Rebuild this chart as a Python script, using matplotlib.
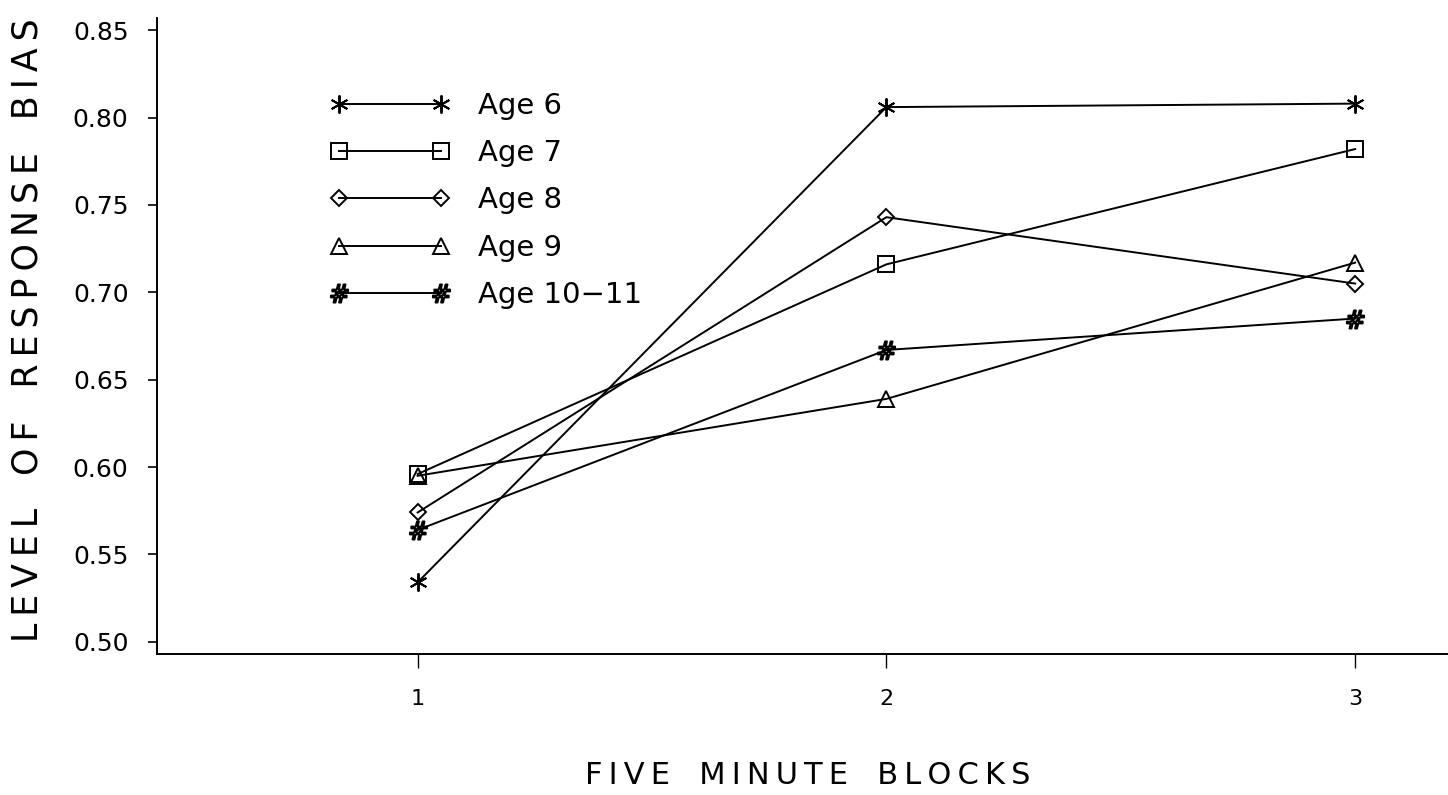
import matplotlib
matplotlib.use("Agg")
import matplotlib.pyplot as plt

blocks = [1, 2, 3]
age6 = [0.534, 0.806, 0.808]
age7 = [0.596, 0.716, 0.782]
age8 = [0.574, 0.743, 0.705]
age9 = [0.595, 0.639, 0.717]
age10_11 = [0.564, 0.667, 0.685]
labels = ["Age 6", "Age 7", "Age 8", "Age 9", "Age 10\u221211"]
yticks = [0.50, 0.55, 0.60, 0.65, 0.70, 0.75, 0.80, 0.85]

plt.rcParams['font.family'] = ['DejaVu Sans']

fig = plt.figure(figsize=(14.48, 7.95), dpi=100)
ax = fig.add_axes([157/1448, 1-654/795, 1-157/1448, (654-18)/795])

series = [age6, age7, age8, age9, age10_11]
markers = [(6, 2, 0), 's', 'D', '^', r'$\#$']
msizes = [13, 12, 8.5, 12, 13]
for vals, m, ms, lab in zip(series, markers, msizes, labels):
    ax.plot(blocks, vals, color='black', lw=1.4, marker=m, ms=ms,
            mfc='none', mec='black', mew=1.4, label=lab)

ax.set_xlim(0.444, 3.198)
ax.set_ylim(0.493, 0.857)
ax.set_xticks(blocks)
ax.set_xticklabels([str(b) for b in blocks], fontsize=16)
ax.set_yticks(yticks)
ax.set_yticklabels([f"{t:.2f}" for t in yticks], fontsize=18)
ax.tick_params(axis='y', direction='out', length=6.5, width=1.2, pad=14)
ax.tick_params(axis='x', direction='out', length=10, width=1.0, pad=15)
for s in ['top', 'right']:
    ax.spines[s].set_visible(False)
for s in ['left', 'bottom']:
    ax.spines[s].set_linewidth(1.4)

ax.legend(loc='upper left', bbox_to_anchor=(330/1448, 1-92/795),
          bbox_transform=fig.transFigure, frameon=False, numpoints=2,
          fontsize=21, handlelength=4.12, handletextpad=0.95,
          labelspacing=0.66, borderpad=0, borderaxespad=0)

ts = "\u2009"
ylab = "   ".join(ts.join(w) for w in ["LEVEL", "OF", "RESPONSE", "BIAS"])
xlab = "   ".join(ts.join(w) for w in ["FIVE", "MINUTE", "BLOCKS"])
fig.text(28/1448, 1-330/795, ylab,
         rotation=90, ha='center', va='center', fontsize=25)
fig.text(808/1448, 1-776/795, xlab,
         ha='center', va='center', fontsize=22)

fig.savefig("out.png", dpi=100)
